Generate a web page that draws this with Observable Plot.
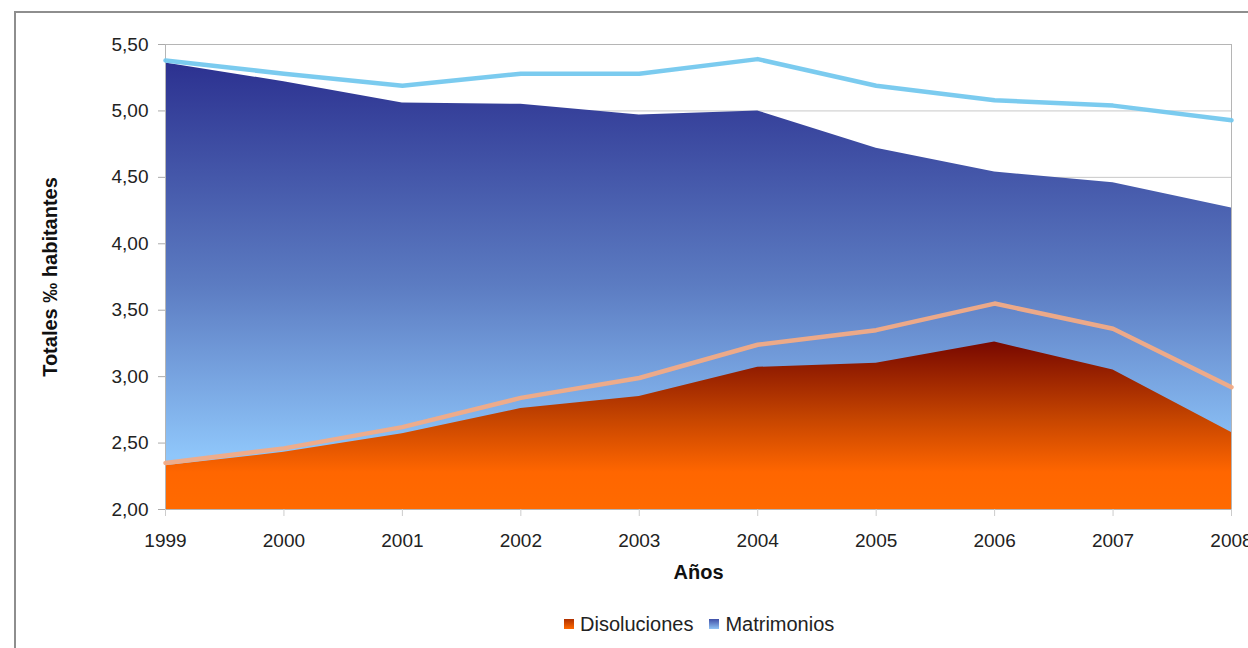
<!DOCTYPE html>
<html>
<head>
<meta charset="utf-8">
<script src="https://cdn.jsdelivr.net/npm/d3@7"></script>
<script src="https://cdn.jsdelivr.net/npm/@observablehq/plot@0.6"></script>
<style>
  body { margin: 0; background: #fff; font-family: "Liberation Sans", Arial, sans-serif; }
  #wrap { position: relative; width: 1248px; height: 648px; overflow: hidden; background: #fff; }
  #border { position: absolute; left: 14px; top: 11px; width: 1400px; height: 800px; border: 2px solid #8e8e8e; box-sizing: border-box; }
  #chart { position: absolute; left: 0; top: 0; }
  #legend { position: absolute; top: 612px; left: 564px; height: 24px; display: flex; align-items: center; font-size: 20px; color: #222; white-space: nowrap; }
  .sw { width: 10px; height: 10px; display: inline-block; margin-right: 6px; }
  .item { display: flex; align-items: center; margin-right: 16px; }
</style>
</head>
<body>
<div id="wrap">
  <div id="border"></div>
  <div id="chart"></div>
  <div id="legend"></div>
</div>
<script>
const years = [1999, 2000, 2001, 2002, 2003, 2004, 2005, 2006, 2007, 2008];
const matrimoniosArea = [5.36, 5.22, 5.06, 5.05, 4.97, 5.00, 4.72, 4.54, 4.46, 4.27];
const matrimoniosLine = [5.38, 5.28, 5.19, 5.28, 5.28, 5.39, 5.19, 5.08, 5.04, 4.93];
const disolucionesArea = [2.33, 2.43, 2.57, 2.76, 2.85, 3.07, 3.10, 3.26, 3.05, 2.58];
const disolucionesLine = [2.35, 2.46, 2.62, 2.84, 2.99, 3.24, 3.35, 3.55, 3.36, 2.92];
const yTicks = [2.0, 2.5, 3.0, 3.5, 4.0, 4.5, 5.0, 5.5];
const seriesNames = ["Disoluciones", "Matrimonios"];

const rows = years.map((year, i) => ({
  year,
  matArea: matrimoniosArea[i],
  matLine: matrimoniosLine[i],
  disArea: disolucionesArea[i],
  disLine: disolucionesLine[i]
}));

const fmt = d => d.toFixed(2).replace(".", ",");

const plot = Plot.plot({
  width: 1248,
  height: 600,
  marginLeft: 165,
  marginRight: 17,
  marginTop: 44,
  marginBottom: 91,
  style: { fontFamily: "Liberation Sans, Arial, sans-serif", fontSize: "19px", color: "#222", background: "transparent" },
  x: { domain: [1999, 2008], label: null },
  y: { domain: [2, 5.5], label: null },
  marks: [
    Plot.gridY(yTicks, { stroke: "#c8c8c8", strokeOpacity: 1 }),
    Plot.areaY(rows, { x: "year", y1: 2, y2: "matArea", fill: "url(#gradBlue)" }),
    Plot.areaY(rows, { x: "year", y1: 2, y2: "disArea", fill: "url(#gradOrange)" }),
    Plot.frame({ stroke: "#b5b5b5" }),
    Plot.lineY(rows, { x: "year", y: "matLine", stroke: "#74c8ee", strokeWidth: 4.5, strokeOpacity: 0.95 }),
    Plot.lineY(rows, { x: "year", y: "disLine", stroke: "#f3ab85", strokeWidth: 4.5, strokeOpacity: 0.95 }),
    Plot.axisY(yTicks, { tickFormat: fmt, tickSize: 7, tickPadding: 10, stroke: "#aaa", fill: "#222", label: null }),
    Plot.axisX(years, { tickFormat: d => String(d), tickSize: 7, tickPadding: 17, stroke: "#ccc", fill: "#222", label: null }),
    Plot.text(["Años"], { frameAnchor: "bottom", dy: 69, fontWeight: "bold", fontSize: 20, fill: "#111" }),
    Plot.text(["Totales ‰ habitantes"], { frameAnchor: "left", dx: -115, rotate: -90, textAnchor: "middle", fontWeight: "bold", fontSize: 20, fill: "#111" })
  ]
});

const svg = d3.select(plot);
const defs = svg.insert("defs", ":first-child");
const gb = defs.append("linearGradient").attr("id", "gradBlue").attr("x1", 0).attr("y1", 0).attr("x2", 0).attr("y2", 1);
gb.append("stop").attr("offset", "0%").attr("stop-color", "#2c3190");
gb.append("stop").attr("offset", "50%").attr("stop-color", "#5c7cc2");
gb.append("stop").attr("offset", "88%").attr("stop-color", "#8fc6fa");
gb.append("stop").attr("offset", "100%").attr("stop-color", "#8fc6fa");
const go = defs.append("linearGradient").attr("id", "gradOrange").attr("x1", 0).attr("y1", 0).attr("x2", 0).attr("y2", 1);
go.append("stop").attr("offset", "0%").attr("stop-color", "#780800");
go.append("stop").attr("offset", "45%").attr("stop-color", "#c44400");
go.append("stop").attr("offset", "78%").attr("stop-color", "#ff6600");
go.append("stop").attr("offset", "100%").attr("stop-color", "#ff6a00");

document.getElementById("chart").appendChild(plot);

const legend = document.getElementById("legend");
const swatches = ["linear-gradient(#b03000,#ff6a00)", "linear-gradient(#4050a8,#90c4f5)"];
seriesNames.forEach((name, i) => {
  const item = document.createElement("div");
  item.className = "item";
  const sw = document.createElement("span");
  sw.className = "sw";
  sw.style.background = swatches[i];
  item.appendChild(sw);
  item.appendChild(document.createTextNode(name));
  legend.appendChild(item);
});
</script>
</body>
</html>
